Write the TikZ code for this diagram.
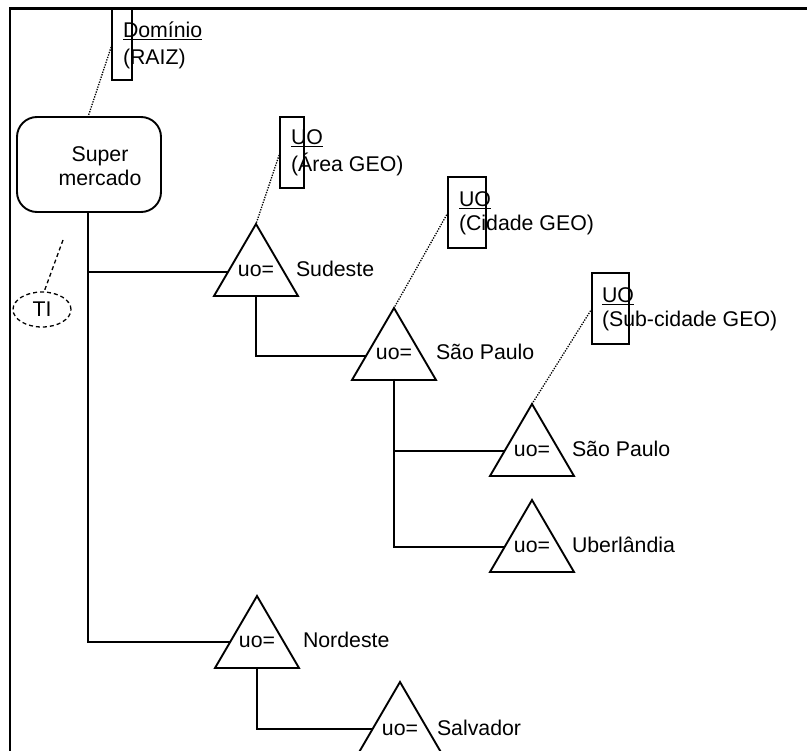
\documentclass[tikz,border=0pt]{standalone}
\usepackage{fontspec}
\setmainfont{Liberation Sans}
\usetikzlibrary{shapes.geometric,calc}

\tikzset{
  txt/.style={font=\fontsize{21.3pt}{24pt}\selectfont, inner sep=0pt, outer sep=0pt},
  lbl/.style={txt, anchor=base west},
  uotxt/.style={txt, anchor=base},
  treeline/.style={line width=1.9pt, line join=miter},
  framebox/.style={line width=2.6pt},
  tagbox/.style={draw, line width=1.8pt, rectangle, inner sep=0pt, outer sep=0pt},
  dotline/.style={line width=1.3pt, dash pattern=on 1.3pt off 1.3pt},
  dashline/.style={line width=1.3pt, dash pattern=on 4pt off 3pt},
  rootbox/.style={draw, line width=1.9pt, rectangle, rounded corners=20pt,
    minimum width=144pt, minimum height=95pt, inner sep=0pt, outer sep=0pt},
  tri/.pic={\draw[treeline] (0,0) -- (-42,72) -- (42,72) -- cycle;}
}

\begin{document}
\begin{tikzpicture}[x=1pt, y=-1pt]
  \useasboundingbox (0,0) rectangle (807,751);

  % frame (top and left edges only)
  \draw[framebox] (10,751) -- (10,8.5) -- (807,8.5);

  % root: domain box and its tag
  \node[rootbox] (sm) at (89,164.5) {};
  \node[txt, align=center] (smtxt) at (100,166) {Super\\mercado};

  \node[tagbox, minimum width=20pt, minimum height=71pt] (dom) at (122,44.5) {};
  \node[lbl] (domA) at (123,38) {\underline{Domínio}};
  \node[lbl] (domB) at (123,65) {(RAIZ)};
  \draw[dotline] (dom.west) -- (sm.north -| 88,0);

  % TI marker
  \node[draw, dashline, ellipse, minimum width=58pt, minimum height=35pt,
        inner sep=0pt, font=\fontsize{21.3pt}{24pt}\selectfont] (ti) at (42,309.5) {TI};
  \coordinate (tiend) at (63,240);
  \draw[dashline] (tiend) -- (ti.83);

  % organisational units (apex of each triangle)
  \coordinate (sud) at (256,224);
  \coordinate (sp2) at (394,308);
  \coordinate (sp3) at (532,404);
  \coordinate (ube) at (532,500);
  \coordinate (nor) at (257,596);
  \coordinate (sal) at (400,682);

  \foreach \t in {sud,sp2,sp3,ube,nor,sal} { \pic at (\t) {tri}; }

  \node[uotxt] (sudu) at ($(sud)+(0,53)$) {uo=};
  \node[uotxt] (sp2u) at ($(sp2)+(0,52)$) {uo=};
  \node[uotxt] (sp3u) at ($(sp3)+(0,53)$) {uo=};
  \node[uotxt] (ubeu) at ($(ube)+(0,53)$) {uo=};
  \node[uotxt] (noru) at ($(nor)+(0,52)$) {uo=};
  \node[uotxt] (salu) at ($(sal)+(0,53)$) {uo=};

  \node[lbl] (sudl) at (296,277) {Sudeste};
  \node[lbl] (sp2l) at (436,360) {São Paulo};
  \node[lbl] (sp3l) at (572,457) {São Paulo};
  \node[lbl] (ubel) at (572,553) {Uberlândia};
  \node[lbl] (norl) at (303,648) {Nordeste};
  \node[lbl] (sall) at (437,735) {Salvador};

  % hierarchy connectors
  \draw[treeline] (sm.south -| 88,0) |- ($(nor)+(-27,46)$);
  \draw[treeline] (88,272) -- ($(sud)+(-28,48)$);
  \draw[treeline] ($(sud)+(0,72)$) |- ($(sp2)+(-28,48)$);
  \draw[treeline] ($(sp2)+(0,71)$) |- ($(ube)+(-27,47)$);
  \draw[treeline] (394,451) -- ($(sp3)+(-27,47)$);
  \draw[treeline] ($(nor)+(0,71)$) |- ($(sal)+(-27,47)$);

  % unit-type tags
  \node[tagbox, minimum width=24pt, minimum height=71pt] (areatag) at (292,152.5) {};
  \node[lbl] (areaA) at (291,145) {\underline{UO}};
  \node[lbl] (areaB) at (291,172) {(Área GEO)};
  \draw[dotline] (areatag.west) -- (sud);

  \node[tagbox, minimum width=38pt, minimum height=71pt] (cidtag) at (467,212.5) {};
  \node[lbl] (cidA) at (459,207) {\underline{UO}};
  \node[lbl] (cidB) at (459,231) {(Cidade GEO)};
  \draw[dotline] (cidtag.west) -- (sp2);

  \node[tagbox, minimum width=37pt, minimum height=71pt] (subtag) at (610.5,308.5) {};
  \node[lbl] (subA) at (602,303) {\underline{UO}};
  \node[lbl] (subB) at (602,327) {(Sub-cidade GEO)};
  \draw[dotline] (subtag.west) -- (sp3);
\end{tikzpicture}
\end{document}
